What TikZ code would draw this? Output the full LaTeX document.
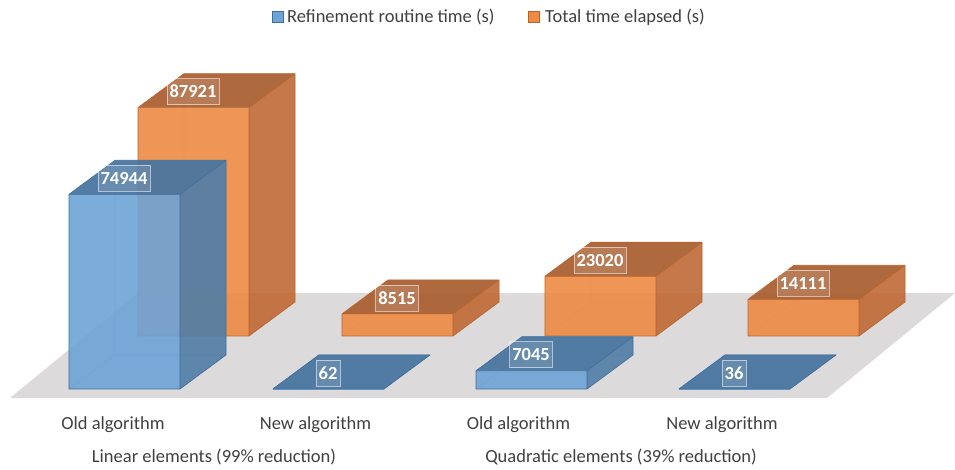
\documentclass[tikz,border=0pt]{standalone}
\usepackage{fontspec}
\setmainfont{Carlito}
\definecolor{bfront}{RGB}{110,163,214}
\definecolor{btop}{RGB}{74,118,160}
\definecolor{bside}{RGB}{84,126,166}
\definecolor{bedge}{RGB}{62,110,158}
\definecolor{ofront}{RGB}{237,139,69}
\definecolor{otop}{RGB}{170,97,53}
\definecolor{oside}{RGB}{192,108,57}
\definecolor{oedge}{RGB}{188,98,42}
\definecolor{floorgray}{RGB}{220,218,218}
\definecolor{txt}{RGB}{64,64,64}
\tikzset{
  vallabel/.style={draw=white, draw opacity=0.55, fill=white, fill opacity=0.12,
    text=white, text opacity=1, inner xsep=2.5pt, inner ysep=0pt, minimum height=26pt,
    font=\fontsize{18.5}{20}\selectfont\bfseries, line width=0.6pt},
  axislabel/.style={text=txt, font=\fontsize{18.5}{22}\selectfont, anchor=base, inner sep=0pt},
  legendkey/.style={draw=#1edge, fill=#1front, line width=0.6pt, minimum size=11pt, inner sep=0pt}
}
% one 3-D bar: front-bottom-left corner (#1,#2), height #3, colour prefix #4, value #5, node name #6
\newcommand\drawbar[6]{%
  \begin{scope}[shift={(#1,#2)}]
    \draw[#4edge, line width=0.6pt, opacity=0.45] (0,0) -- (46,-34) -- (157,-34) (46,-34) -- (46,-34-#3);
    \fill[#4front, opacity=0.9] (0,0) rectangle (111,-#3);
    \fill[#4side, opacity=0.92] (111,0) -- (157,-34) -- (157,-34-#3) -- (111,-#3) -- cycle;
    \fill[#4top, opacity=0.95] (0,-#3) -- (46,-34-#3) -- (157,-34-#3) -- (111,-#3) -- cycle;
    \draw[#4edge, line width=0.6pt, line join=round]
      (0,0) -- (111,0) -- (157,-34) -- (157,-34-#3) -- (46,-34-#3) -- (0,-#3) -- cycle
      (0,-#3) -- (111,-#3) -- (111,0) (111,-#3) -- (157,-34-#3);
    \node[vallabel] (#6) at (55,-16-#3) {#5};
  \end{scope}}
\begin{document}
\begin{tikzpicture}[x=1pt,y=-1pt]
  \useasboundingbox (0,0) rectangle (955,470);
  % floor
  \fill[floorgray] (10,398) -- (138,293) -- (955,293) -- (827,398) -- cycle;
  % back row: total time elapsed
  \drawbar{138}{336}{228.4}{o}{87921}{o1}
  \drawbar{342}{336}{22.1}{o}{8515}{o2}
  \drawbar{545}{336}{59.8}{o}{23020}{o3}
  \drawbar{748}{336}{36.7}{o}{14111}{o4}
  % front row: refinement routine time
  \drawbar{69}{389}{194.7}{b}{74944}{b1}
  \drawbar{273}{389}{0.16}{b}{62}{b2}
  \drawbar{476}{389}{18.3}{b}{7045}{b3}
  \drawbar{679}{389}{0.09}{b}{36}{b4}
  % category axis
  \node[axislabel] (c1) at (113,429) {Old algorithm};
  \node[axislabel] (c2) at (315.5,429) {New algorithm};
  \node[axislabel] (c3) at (518.5,429) {Old algorithm};
  \node[axislabel] (c4) at (722,429) {New algorithm};
  \node[axislabel] (g1) at (214,462) {Linear elements (99\% reduction)};
  \node[axislabel] (g2) at (621,462) {Quadratic elements (39\% reduction)};
  % legend
  \node[legendkey=b] (k1) at (277.5,17) {};
  \node[axislabel, anchor=base west] (l1) at (287,23) {Refinement routine time (s)};
  \node[legendkey=o] (k2) at (534,17) {};
  \node[axislabel, anchor=base west] (l2) at (545,23) {Total time elapsed (s)};
\end{tikzpicture}
\end{document}
